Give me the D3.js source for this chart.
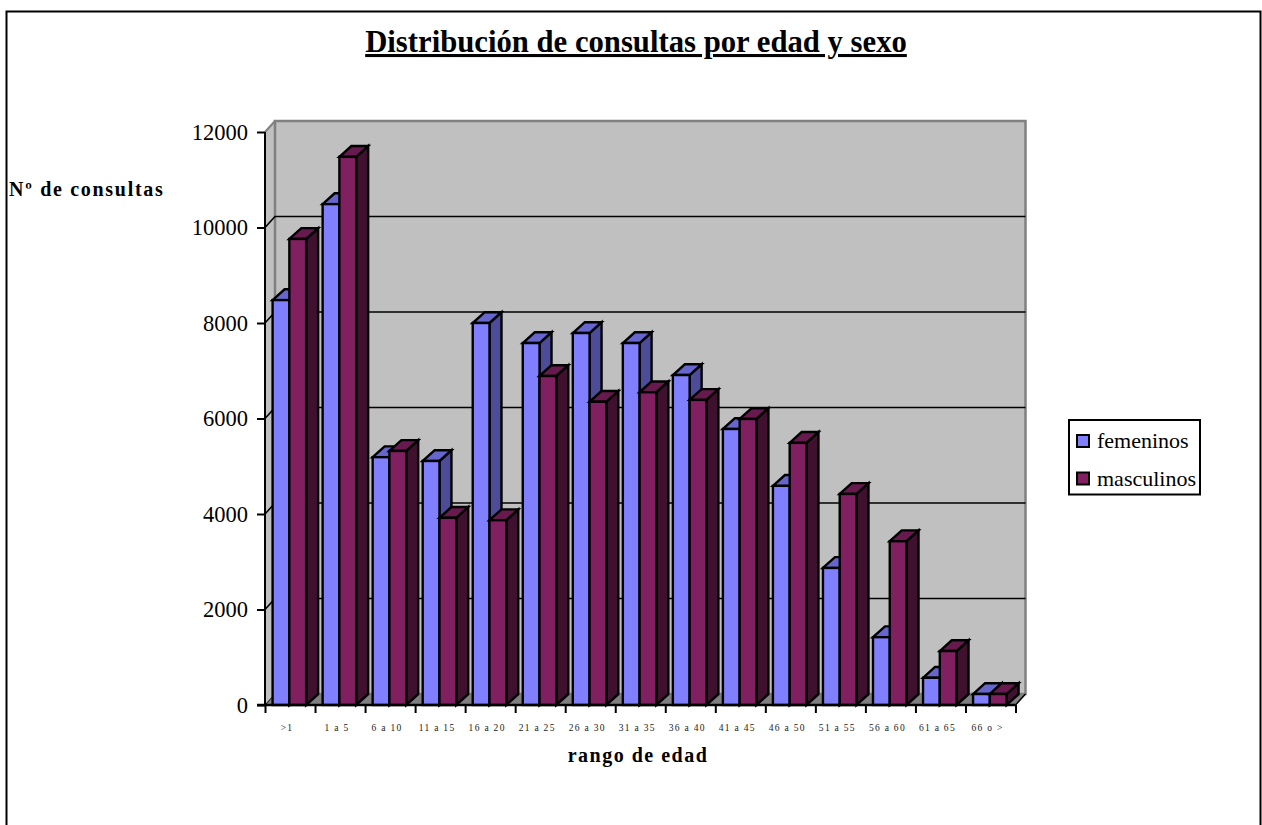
<!DOCTYPE html>
<html>
<head>
<meta charset="utf-8">
<script src="https://cdn.jsdelivr.net/npm/d3@7/dist/d3.min.js"></script>
<style>
html,body{margin:0;padding:0;background:#fff;overflow:hidden}
svg{display:block}
text{font-family:"Liberation Serif",serif;fill:#000}
</style>
</head>
<body>
<svg id="chart" width="1262" height="825"></svg>
<script>
const categories = [">1","1 a 5","6 a 10","11 a 15","16 a 20","21 a 25","26 a 30","31 a 35","36 a 40","41 a 45","46 a 50","51 a 55","56 a 60","61 a 65","66 o >"];
const femeninos = [8480,10490,5190,5110,8000,7580,7790,7580,6910,5780,4590,2870,1420,570,230];
const masculinos = [9760,11480,5320,3920,3870,6890,6350,6550,6390,5990,5490,4420,3430,1130,230];
const yTicks = [0,2000,4000,6000,8000,10000,12000];

const seriesList = [
  {name:"femeninos", values:femeninos, front:"#8080ff", topFace:"#6666cc", side:"#4c4c99"},
  {name:"masculinos", values:masculinos, front:"#802060", topFace:"#661a4d", side:"#40102f"}
];

const svg = d3.select("#chart");

// Front plane of the plot and the 3D offsets of the wall and the bars
const plotLeft = 265, plotRight = 1015.5, plotTop = 132, plotBottom = 705;
const wallDx = 10, wallDy = -11, barDx = 12, barDy = -10.8;

const y = d3.scaleLinear().domain([0,12000]).range([plotBottom,plotTop]);
const x = d3.scaleBand().domain(categories).range([plotLeft,plotRight]).paddingInner(0.33).paddingOuter(0.165).align(0.46);
const inner = d3.scaleBand().domain(seriesList.map(s=>s.name)).range([0,x.bandwidth()]);

// Outer frame
svg.append("rect").attr("x",6.5).attr("y",11.5).attr("width",1254).attr("height",830)
  .attr("fill","#fff").attr("stroke","#000").attr("stroke-width",2);

// Back wall, side wall and floor
const poly = pts => pts.map(p=>p.join(",")).join(" ");
const g = svg.append("g");
g.append("polygon")
  .attr("points",poly([[plotLeft,plotTop],[plotLeft+wallDx,plotTop+wallDy],[plotLeft+wallDx,plotBottom+wallDy],[plotLeft,plotBottom]]))
  .attr("fill","#c0c0c0");
g.append("polygon")
  .attr("points",poly([[plotLeft+wallDx,plotTop+wallDy],[plotRight+wallDx,plotTop+wallDy],[plotRight+wallDx,plotBottom+wallDy],[plotLeft+wallDx,plotBottom+wallDy]]))
  .attr("fill","#c0c0c0").attr("stroke","#808080").attr("stroke-width",2.5);
g.append("polygon")
  .attr("points",poly([[plotLeft,plotBottom],[plotLeft+wallDx,plotBottom+wallDy],[plotRight+wallDx,plotBottom+wallDy],[plotRight,plotBottom]]))
  .attr("fill","#808080");
g.append("line").attr("x1",plotLeft).attr("y1",plotTop).attr("x2",plotLeft+wallDx).attr("y2",plotTop+wallDy)
  .attr("stroke","#808080").attr("stroke-width",2);

// Gridlines across the back wall and down the side wall
yTicks.filter(t=>t>0 && t<12000).forEach(t=>{
  g.append("polyline")
    .attr("points",poly([[plotLeft,y(t)],[plotLeft+wallDx,y(t)+wallDy],[plotRight+wallDx,y(t)+wallDy]]))
    .attr("fill","none").attr("stroke","#000").attr("stroke-width",1.6);
});
g.append("line").attr("x1",plotLeft).attr("y1",plotBottom).attr("x2",plotLeft+wallDx).attr("y2",plotBottom+wallDy)
  .attr("stroke","#000").attr("stroke-width",1);
g.append("line").attr("x1",plotRight).attr("y1",plotBottom).attr("x2",plotRight+wallDx).attr("y2",plotBottom+wallDy)
  .attr("stroke","#000").attr("stroke-width",1.5);

// Bars: side face, top face, front face
categories.forEach((c,i)=>{
  seriesList.forEach(s=>{
    const x0 = x(c)+inner(s.name), x1 = x0+inner.bandwidth();
    const y0 = y(s.values[i]), y1 = y(0);
    const bar = svg.append("g").attr("class","bar").attr("stroke","#000").attr("stroke-width",2.4);
    bar.append("polygon").attr("fill",s.side)
      .attr("points",poly([[x1,y0],[x1+barDx,y0+barDy],[x1+barDx,y1+barDy],[x1,y1]]));
    bar.append("polygon").attr("fill",s.topFace)
      .attr("points",poly([[x0,y0],[x0+barDx,y0+barDy],[x1+barDx,y0+barDy],[x1,y0]]));
    bar.append("rect").attr("fill",s.front)
      .attr("x",x0).attr("y",y0).attr("width",x1-x0).attr("height",y1-y0);
  });
});

// Value axis
const yAxis = svg.append("g").attr("transform",`translate(${plotLeft},0)`)
  .call(d3.axisLeft(y).tickValues(yTicks).tickSize(8).tickPadding(9).tickFormat(d3.format("d")));
yAxis.selectAll("text").style("font-size","22.5px").style("font-family","'Liberation Serif',serif").attr("dy","0.33em");
yAxis.selectAll("line").attr("stroke","#000").attr("stroke-width",2);
yAxis.select(".domain").attr("stroke","#000").attr("stroke-width",2).attr("d",`M0,${plotTop}V${plotBottom}`);

// Category axis, with ticks on the band boundaries
const boundary = d3.scaleLinear().domain([0,categories.length]).range([plotLeft,plotRight]);
const tickIdx = d3.range(categories.length+1);
const xAxis = svg.append("g").attr("transform",`translate(0,${plotBottom})`)
  .call(d3.axisBottom(boundary).tickValues(tickIdx).tickSize(8).tickFormat(""));
xAxis.selectAll("line").attr("stroke","#000").attr("stroke-width",2);
xAxis.select(".domain").attr("stroke","#000").attr("stroke-width",2.5).attr("d",`M${plotLeft-8},0H${plotRight}`);
svg.append("g").selectAll("text").data(categories).join("text")
  .attr("x",(d,i)=>(boundary(i)+boundary(i+1))/2 - 3)
  .attr("y",731).attr("text-anchor","middle")
  .style("font-size","9.5px").style("letter-spacing","1.3px").style("fill","#222").text(d=>d);

// Titles
svg.append("text").attr("x",636).attr("y",52).attr("text-anchor","middle")
  .style("font-size","30.7px").style("font-weight","bold").style("text-decoration","underline")
  .text("Distribución de consultas por edad y sexo");
svg.append("text").attr("x",9).attr("y",196)
  .style("font-size","20px").style("font-weight","bold").style("letter-spacing","1.7px").text("Nº de consultas");
svg.append("text").attr("x",638).attr("y",762).attr("text-anchor","middle")
  .style("font-size","20px").style("font-weight","bold").style("letter-spacing","1.5px").text("rango de edad");

// Legend
const legend = svg.append("g");
legend.append("rect").attr("x",1069).attr("y",420).attr("width",131).attr("height",74.5)
  .attr("fill","#fff").attr("stroke","#000").attr("stroke-width",2);
seriesList.forEach((s,i)=>{
  const yy = 441+i*37.5;
  legend.append("rect").attr("x",1077).attr("y",yy-6).attr("width",12).attr("height",12)
    .attr("fill",s.front).attr("stroke","#000").attr("stroke-width",2);
  legend.append("text").attr("x",1097).attr("y",yy+7).style("font-size","22px").text(s.name);
});
</script>
</body>
</html>
